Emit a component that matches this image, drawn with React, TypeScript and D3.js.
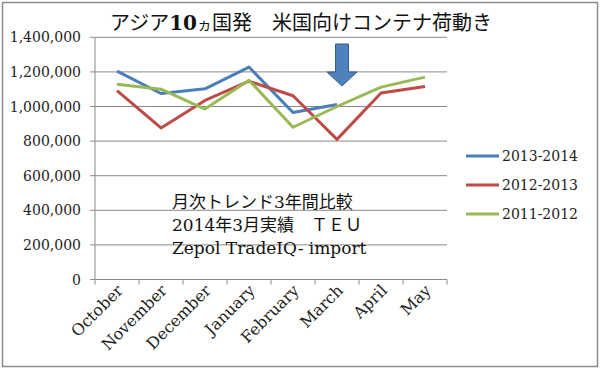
import React from "react";
import * as d3 from "d3";

const months = ["October", "November", "December", "January", "February", "March", "April", "May"];
const series2013 = [1204000, 1075000, 1102000, 1228000, 965000, 1012000];
const series2012 = [1092000, 876000, 1035000, 1146000, 1062000, 810000, 1078000, 1115000];
const series2011 = [1128000, 1100000, 985000, 1152000, 880000, 1000000, 1112000, 1170000];
const seriesNames = ["2013-2014", "2012-2013", "2011-2012"];
const yTicks = [0, 200000, 400000, 600000, 800000, 1000000, 1200000, 1400000];
const noteLines = ["月次トレンド3年間比較", "2014年3月実績　ＴＥＵ", "Zepol TradeIQ- import"];

const colors = ["#4a7ebb", "#be4b48", "#98b954"];
const serif = "'DejaVu Serif', 'Noto Sans CJK JP', serif";

export default function App() {
  const width = 600;
  const height = 370;
  const left = 95;
  const right = 447;
  const top = 37.3;
  const bottom = 279.5;

  const x = d3.scaleBand<string>().domain(months).range([left, right]);
  const y = d3.scaleLinear().domain([0, 1400000]).range([bottom, top]);
  const cx = (m: string) => (x(m) as number) + x.bandwidth() / 2;

  const line = d3
    .line<number>()
    .x((d, i) => cx(months[i]))
    .y((d) => y(d));

  const allSeries = [series2013, series2012, series2011];
  const fmt = d3.format(",");

  // arrow pointing at March
  const ax = cx("March") + 5;

  return (
    <div style={{ position: "absolute", left: 0, top: 0 }}>
      <svg width={width} height={height} style={{ display: "block", background: "#fff" }}>
        <rect x={2.5} y={2.5} width={595} height={364} fill="#fff" stroke="#8c8c8c" strokeWidth={1.5} />

        {/* title */}
        <text x={110} y={30} fontFamily={serif} fontSize={20} fill="#111">
          アジア<tspan fontWeight="bold">10</tspan><tspan fontSize={15}>ヵ</tspan>国発　米国向けコンテナ荷動き
        </text>

        {/* grid + y ticks */}
        {yTicks.map((t) => (
          <g key={t}>
            <line x1={left - 5} x2={right} y1={y(t)} y2={y(t)} stroke="#8a8a8a" strokeWidth={1} />
            <text x={81} y={y(t) + 5} textAnchor="end" fontFamily={serif} fontSize={14} fill="#222">
              {fmt(t)}
            </text>
          </g>
        ))}
        <line x1={left} x2={left} y1={top} y2={bottom} stroke="#8a8a8a" strokeWidth={1} />

        {/* x ticks */}
        {months.map((m) => (
          <line key={m} x1={x(m)} x2={x(m)} y1={bottom} y2={bottom + 5} stroke="#8a8a8a" />
        ))}
        <line x1={right} x2={right} y1={bottom} y2={bottom + 5} stroke="#8a8a8a" />

        {months.map((m) => (
          <text
            key={m}
            transform={`translate(${cx(m) + 7},${bottom + 12}) rotate(-45)`}
            textAnchor="end"
            fontFamily={serif}
            fontSize={16}
            fill="#222"
          >
            {m}
          </text>
        ))}

        {/* series */}
        {allSeries.map((s, i) => (
          <path key={i} d={line(s) || ""} fill="none" stroke={colors[i]} strokeWidth={3} strokeLinejoin="round" />
        ))}

        {/* arrow */}
        <path
          d={`M${ax - 6.5},44 L${ax + 6.5},44 L${ax + 6.5},72 L${ax + 15},72 L${ax},86 L${ax - 15},72 L${ax - 6.5},72 Z`}
          fill="#4f81bd"
          stroke="#385d8a"
          strokeWidth={1}
        />

        {/* note */}
        {noteLines.map((t, i) => (
          <text key={i} x={172} y={208 + i * 23} fontFamily={serif} fontSize={17} fill="#111">
            {t}
          </text>
        ))}

        {/* legend */}
        {seriesNames.map((n, i) => (
          <g key={n}>
            <line x1={466} x2={499} y1={156 + i * 29} y2={156 + i * 29} stroke={colors[i]} strokeWidth={3} />
            <text x={502} y={161 + i * 29} fontFamily={serif} fontSize={14} fill="#222">
              {n}
            </text>
          </g>
        ))}
      </svg>
    </div>
  );
}
